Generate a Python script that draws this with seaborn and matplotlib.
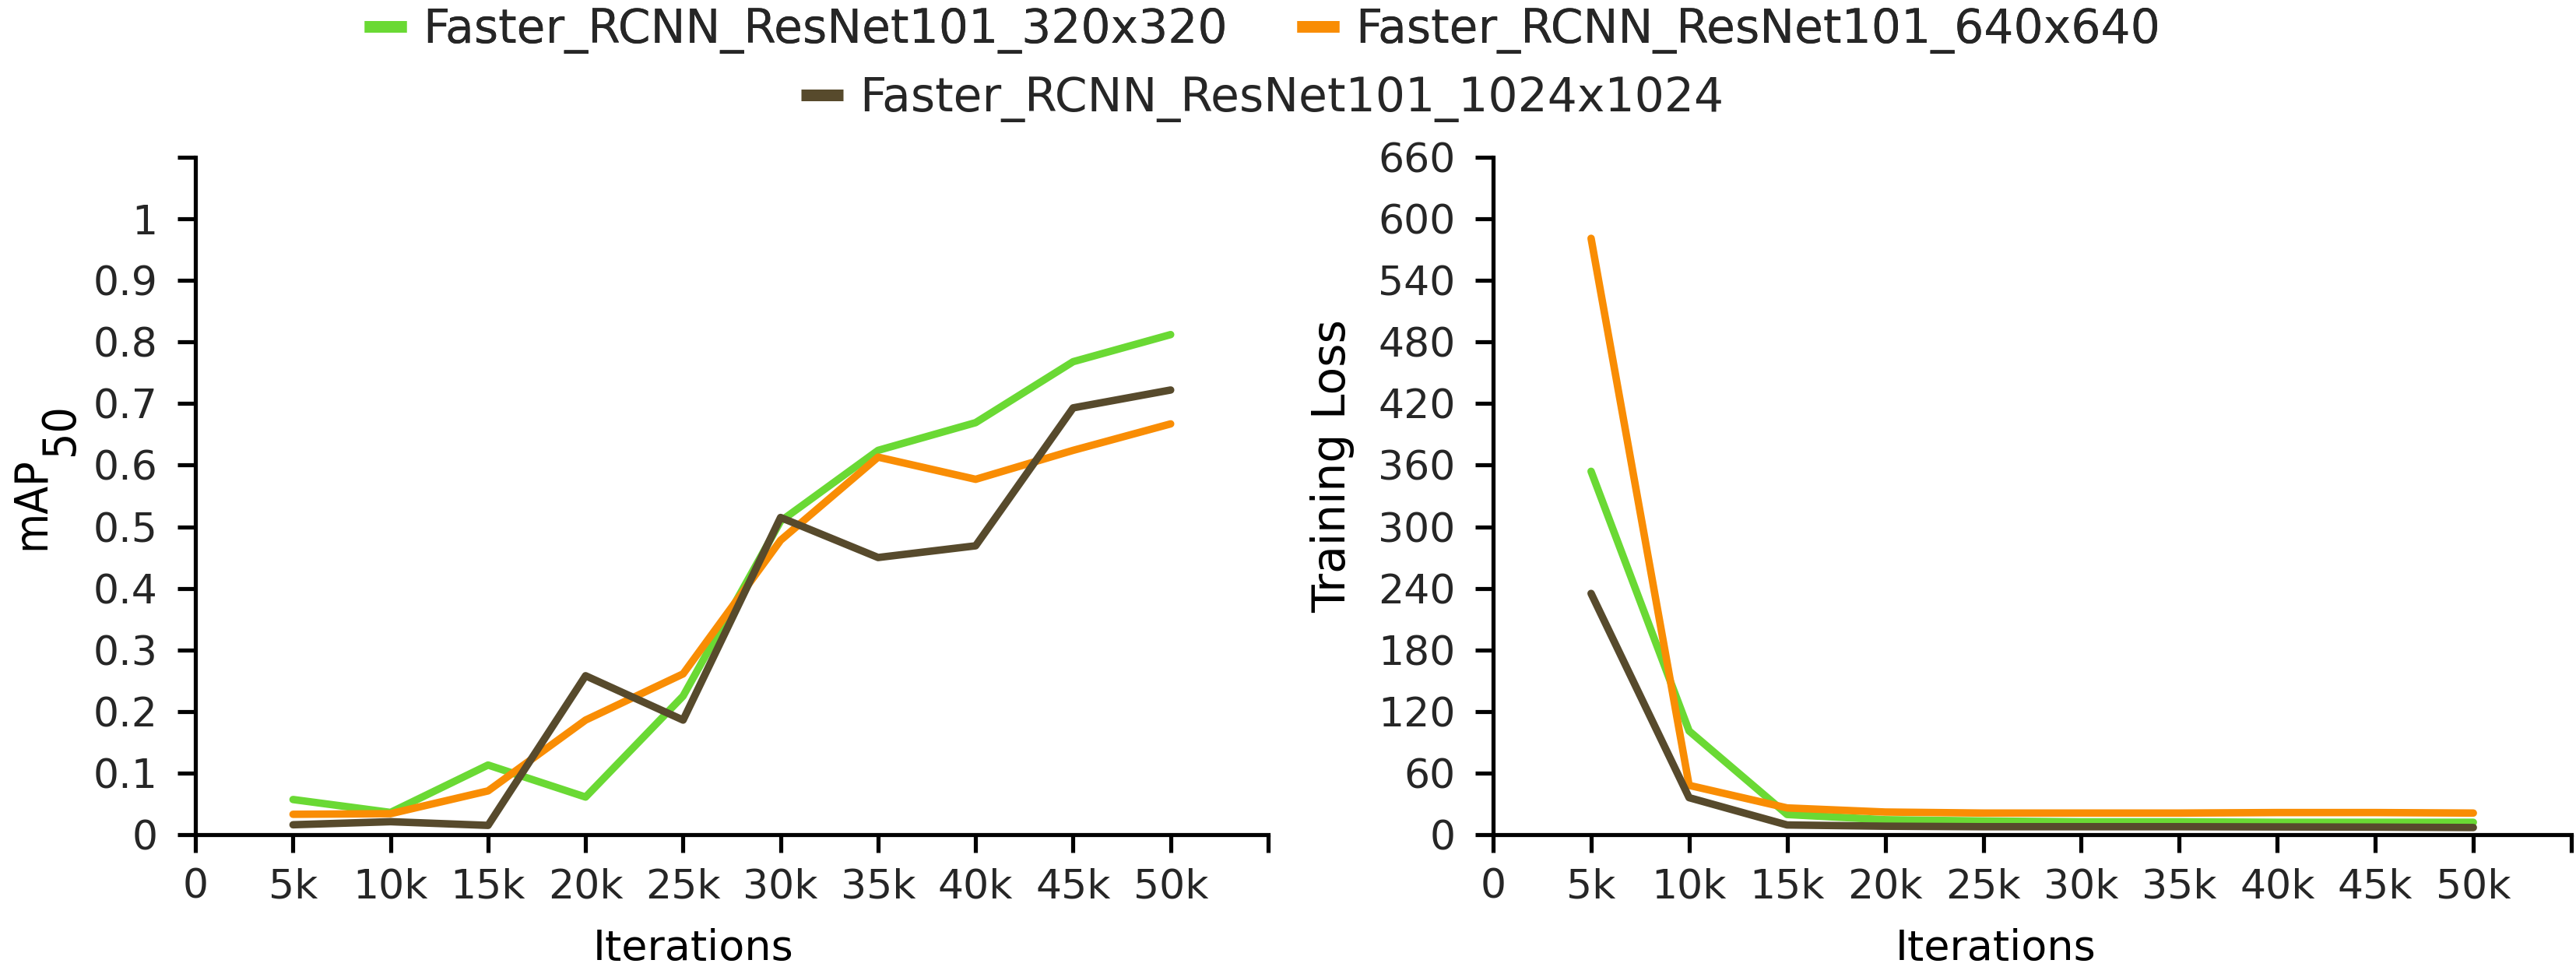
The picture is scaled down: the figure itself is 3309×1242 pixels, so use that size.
import matplotlib
matplotlib.use("Agg")
import matplotlib.pyplot as plt
from matplotlib.lines import Line2D
import seaborn as sns
import pandas as pd

# ---- data ----
iterations = [5000, 10000, 15000, 20000, 25000, 30000, 35000, 40000, 45000, 50000]
models = ["Faster_RCNN_ResNet101_320x320",
          "Faster_RCNN_ResNet101_640x640",
          "Faster_RCNN_ResNet101_1024x1024"]
colors = ["#6ad934", "#f98d04", "#574a2c"]

map_320 = [0.057, 0.036, 0.113, 0.061, 0.225, 0.509, 0.624, 0.669, 0.768, 0.812]
map_640 = [0.033, 0.034, 0.071, 0.186, 0.261, 0.478, 0.613, 0.577, 0.624, 0.667]
map_1024 = [0.016, 0.021, 0.015, 0.258, 0.186, 0.515, 0.450, 0.469, 0.693, 0.722]

loss_320 = [354, 101, 19.6, 14.5, 13.3, 12.5, 12.5, 12, 12, 12]
loss_640 = [581, 48, 26, 22, 21, 21, 21, 21.5, 21.5, 21]
loss_1024 = [235, 36, 9.4, 8.2, 7.7, 7.7, 7.7, 7.5, 7.3, 6.9]

x_ticks = [0, 5000, 10000, 15000, 20000, 25000, 30000, 35000, 40000, 45000, 50000, 55000]
x_ticklabels = ["0", "5k", "10k", "15k", "20k", "25k", "30k", "35k", "40k", "45k", "50k", ""]
map_ticks = [0, 0.1, 0.2, 0.3, 0.4, 0.5, 0.6, 0.7, 0.8, 0.9, 1.0, 1.1]
map_ticklabels = ["0", "0.1", "0.2", "0.3", "0.4", "0.5", "0.6", "0.7", "0.8", "0.9", "1", ""]
loss_ticks = list(range(0, 661, 60))

# ---- long-form table ----
rows = []
for m, mv, lv in zip(models, [map_320, map_640, map_1024], [loss_320, loss_640, loss_1024]):
    for it, a, b in zip(iterations, mv, lv):
        rows.append({"iter": it, "model": m, "map": a, "loss": b})
df = pd.DataFrame(rows)

sns.set_theme(style="ticks")
plt.rcParams["font.family"] = ["DejaVu Sans"]

W, H = 3309, 1242
fig = plt.figure(figsize=(W / 300, H / 300), dpi=300)
ax1 = fig.add_axes([0.0759, 0.1369, 0.4164, 0.7005])
ax2 = fig.add_axes([0.5796, 0.1369, 0.4186, 0.7005])

palette = dict(zip(models, colors))
lw = 2.3
sns.lineplot(data=df, x="iter", y="map", hue="model", hue_order=models,
             palette=palette, ax=ax1, legend=False, linewidth=lw, errorbar=None)
sns.lineplot(data=df, x="iter", y="loss", hue="model", hue_order=models,
             palette=palette, ax=ax2, legend=False, linewidth=lw, errorbar=None)

for ax in (ax1, ax2):
    ax.set_xlim(0, 55000)
    ax.set_xticks(x_ticks)
    ax.set_xticklabels(x_ticklabels)
    for side in ("top", "right"):
        ax.spines[side].set_visible(False)
    for side in ("left", "bottom"):
        ax.spines[side].set_linewidth(1.25)
        ax.spines[side].set_color("black")
    ax.tick_params(axis="both", direction="out", length=5.6, width=1.25,
                   color="black", labelsize=12.5, labelcolor="#262626", pad=6)
    ax.tick_params(axis="x", pad=4.5)
    ax.grid(False)

ax1.set_ylim(0, 1.1)
ax1.set_yticks(map_ticks)
ax1.set_yticklabels(map_ticklabels)
ax2.set_ylim(0, 660)
ax2.set_yticks(loss_ticks)

# y label of left panel: "mAP" followed by a lowered, full-size "50"
ax1.set_ylabel("")
t_map = fig.text(69 / W, 1 - 706 / H, "mAP", rotation=90, fontsize=14,
                 fontstretch="condensed", ha="right", va="bottom", color="black")
renderer = fig.canvas.get_renderer()
bb = t_map.get_window_extent(renderer)
top_frac = (bb.y1 + 2) / H
fig.text(106 / W, top_frac, "50", rotation=90, fontsize=14,
         fontstretch="condensed", ha="right", va="bottom", color="black")

ax2.set_ylabel("Training Loss", fontsize=14, color="black")
ax1.set_xlabel("Iterations", fontsize=13, color="black")
ax2.set_xlabel("Iterations", fontsize=13, color="black")
ax2.yaxis.set_label_coords(-0.128, 0.544)
ax1.xaxis.set_label_coords(0.464, -0.138)
ax2.xaxis.set_label_coords(0.466, -0.138)

handles = [Line2D([], [], color=c, lw=3.6, solid_capstyle="butt") for c in colors]
leg1 = fig.legend(handles[:2], models[:2], loc="center", bbox_to_anchor=(0.49, 0.969),
                  ncol=2, frameon=False, fontsize=14.4, handlelength=0.9,
                  handletextpad=0.35, columnspacing=1.5, borderpad=0, borderaxespad=0)
fig.add_artist(leg1)
fig.legend(handles[2:], models[2:], loc="center", bbox_to_anchor=(0.49, 0.898),
           ncol=1, frameon=False, fontsize=14.4, handlelength=0.9,
           handletextpad=0.35, borderpad=0, borderaxespad=0)

fig.savefig("out.png", dpi=300, facecolor="white")
